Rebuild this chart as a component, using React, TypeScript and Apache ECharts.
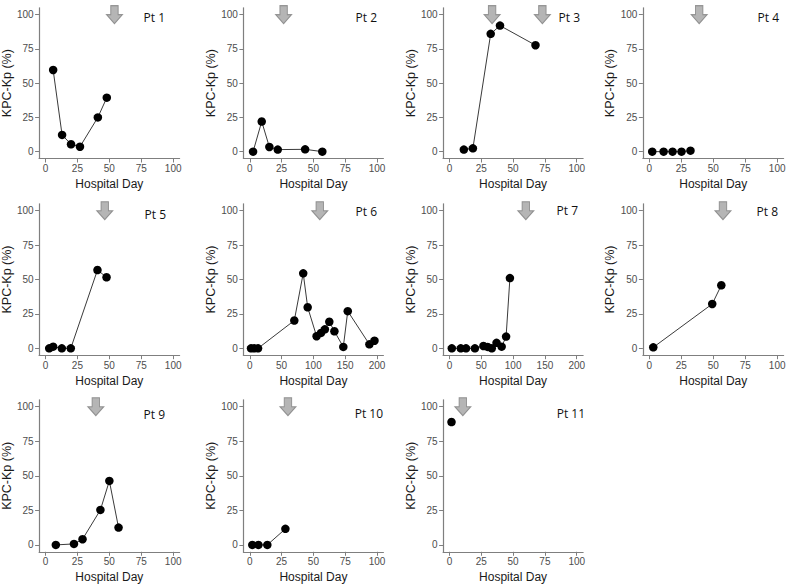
import React, { useEffect, useRef } from "react";
import * as echarts from "echarts";

// ---- data (hospital day, KPC-Kp %) ----
const P1_DAY = [6, 13, 20, 27, 41, 48];
const P1_PCT = [59.6, 12.2, 5.4, 3.6, 25, 39.4];
const P2_DAY = [2.6, 9.4, 15.4, 22, 43.5, 57];
const P2_PCT = [0, 22, 3.4, 1.5, 1.7, 0];
const P3_DAY = [11.3, 18.4, 32.4, 39.7, 67.6];
const P3_PCT = [1.5, 2.4, 86, 92, 77.7];
const P4_DAY = [2.3, 11.2, 18.2, 25.2, 32.2];
const P4_PCT = [0, 0, 0, 0, 0.7];
const P5_DAY = [2.9, 6, 12.8, 19.8, 40.7, 47.8];
const P5_PCT = [0, 1.2, 0, 0, 56.9, 51.6];
const P6_DAY = [2, 7, 13, 70, 84, 91, 105, 112, 118, 125, 133, 147, 154, 188, 196];
const P6_PCT = [0, 0, 0, 20.2, 54.5, 29.8, 8.8, 11.2, 13.8, 19.3, 12.4, 1, 27, 2.9, 5.5];
const P7_DAY = [3.7, 17.8, 26, 40, 53.4, 60, 66.5, 74, 82, 89, 95];
const P7_PCT = [0, 0, 0, 0, 1.7, 1, 0, 4, 1.2, 8.5, 51];
const P8_DAY = [3.1, 49.2, 56.3];
const P8_PCT = [0.7, 32.2, 45.8];
const P9_DAY = [8.1, 22.3, 29, 43, 50, 57.2];
const P9_PCT = [0, 0.7, 4.1, 25.3, 46.3, 12.5];
const P10_DAY = [2, 6.8, 13.8, 28];
const P10_PCT = [0, 0, 0, 11.6];
const P11_DAY = [1.6];
const P11_PCT = [88.9];

// arrow (event) days
const ARROWS = [[54], [26.6], [33.5, 73], [39], [46.4], [110], [120], [57.6], [39.4], [30], [10.5]];
const PANEL_NAMES = ["Pt 1", "Pt 2", "Pt 3", "Pt 4", "Pt 5", "Pt 6", "Pt 7", "Pt 8", "Pt 9", "Pt 10", "Pt 11"];
const DAYS = [P1_DAY, P2_DAY, P3_DAY, P4_DAY, P5_DAY, P6_DAY, P7_DAY, P8_DAY, P9_DAY, P10_DAY, P11_DAY];
const PCTS = [P1_PCT, P2_PCT, P3_PCT, P4_PCT, P5_PCT, P6_PCT, P7_PCT, P8_PCT, P9_PCT, P10_PCT, P11_PCT];
const X_MAX = [100, 100, 100, 100, 100, 200, 200, 100, 100, 100, 100];

const Y_TICKS = [0, 25, 50, 75, 100];
const X_TICKS_100 = [0, 25, 50, 75, 100];
const X_TICKS_200 = [0, 50, 100, 150, 200];
const ARROW_Y = 100;

// ---- layout ----
const COL_LEFT = [39.1, 243.4, 443.1, 642.9];
const COL_WIDTH = [140.5, 140, 140, 140.7];
const ROW_TOP = [7.8, 203.8, 399.8];
const ROW_HEIGHT = [150.7, 151.4, 152];
const LABEL_POS = [
  [165, 17.3], [377, 17.3], [580, 17], [779, 17],
  [166, 214], [377, 211], [578, 210.5], [778, 211],
  [165, 414], [383, 413.5], [585, 413.5],
];

const ARROW_PATH = "path://M4.3,0 L11.7,0 L11.7,9 L16,9 L8,18 L0,9 L4.3,9 Z";
const AXIS_FONT = "Liberation Sans";

export default function App() {
  const ref = useRef<HTMLDivElement>(null);
  useEffect(() => {
    if (!ref.current) return;
    const chart = echarts.init(ref.current, null, { renderer: "svg" });
    const grid: any[] = [];
    const xAxis: any[] = [];
    const yAxis: any[] = [];
    const series: any[] = [];
    const graphic: any[] = [];
    const axisLine = { show: true, onZero: false, lineStyle: { color: "#7f7f7f", width: 1.2 } };
    const axisTickBase = { show: true, length: 4, inside: false, lineStyle: { color: "#7f7f7f", width: 1 } };
    PANEL_NAMES.forEach((name, i) => {
      const r = Math.floor(i / 4);
      const c = i % 4;
      grid.push({
        left: COL_LEFT[c], top: ROW_TOP[r], width: COL_WIDTH[c], height: ROW_HEIGHT[r],
        outerBoundsMode: "none", containLabel: false,
      });
      const xm = X_MAX[i];
      const xt = xm === 200 ? X_TICKS_200 : X_TICKS_100;
      const pad = xm * 0.05;
      xAxis.push({
        type: "value", gridIndex: i, min: -pad, max: xm + pad,
        axisLine, splitLine: { show: false },
        axisTick: { ...axisTickBase, customValues: xt },
        axisLabel: { customValues: xt, margin: 5, fontSize: 10, color: "#4d4d4d", fontFamily: AXIS_FONT },
        name: "Hospital Day", nameLocation: "middle", nameGap: 19.5,
        nameTextStyle: { fontSize: 12, color: "#1a1a1a", fontFamily: AXIS_FONT },
      });
      yAxis.push({
        type: "value", gridIndex: i, min: -5, max: 105,
        axisLine, splitLine: { show: false },
        axisTick: { ...axisTickBase, customValues: Y_TICKS },
        axisLabel: { customValues: Y_TICKS, margin: 5.5, fontSize: 10, color: "#4d4d4d", fontFamily: AXIS_FONT },
        name: "KPC-Kp (%)", nameLocation: "middle", nameGap: 25,
        nameTextStyle: { fontSize: 12.5, color: "#1a1a1a", fontFamily: AXIS_FONT },
      });
      series.push({
        type: "line", xAxisIndex: i, yAxisIndex: i,
        data: DAYS[i].map((d, k) => [d, PCTS[i][k]]),
        symbol: "circle", symbolSize: 8.5, showSymbol: true,
        itemStyle: { color: "#000000" },
        lineStyle: { color: "#3a3a3a", width: 1 },
        z: 3,
      });
      series.push({
        type: "scatter", xAxisIndex: i, yAxisIndex: i,
        data: ARROWS[i].map((d) => [d, ARROW_Y]),
        symbol: ARROW_PATH, symbolSize: [16, 18], clip: false,
        itemStyle: { color: "#a3a3a3", borderColor: "#808080", borderWidth: 1 },
        z: 4,
      });
      graphic.push({
        type: "text", x: LABEL_POS[i][0], y: LABEL_POS[i][1],
        style: {
          text: name, align: "right", verticalAlign: "middle",
          fontSize: 12, fontFamily: "Open Sans", fill: "#111111",
        },
      });
    });
    chart.setOption({
      animation: false,
      backgroundColor: "#ffffff",
      grid, xAxis, yAxis, series, graphic,
    });
    return () => chart.dispose();
  }, []);
  return (
    <div
      ref={ref}
      style={{ position: "fixed", left: 0, top: 0, width: 788, height: 588 }}
    />
  );
}
